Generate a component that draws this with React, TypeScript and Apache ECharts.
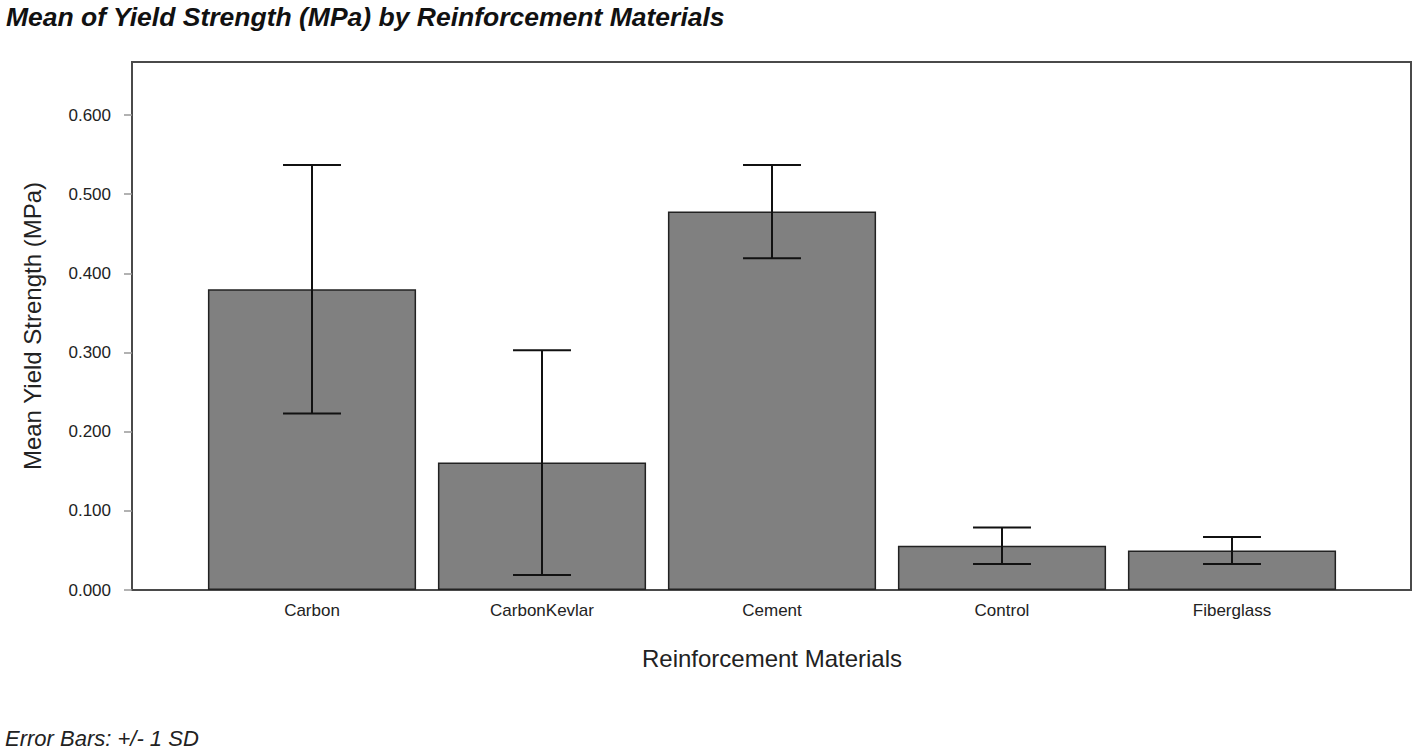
import React, { useEffect, useRef } from "react";
import * as echarts from "echarts";

const categories = ["Carbon", "CarbonKevlar", "Cement", "Control", "Fiberglass"];
const means = [0.38, 0.161, 0.478, 0.056, 0.05];
const sds = [0.157, 0.142, 0.059, 0.023, 0.017];
const yTicks = [0, 0.1, 0.2, 0.3, 0.4, 0.5, 0.6];
const yMax = 0.667;

const FONT = "'Liberation Sans', Arial, Helvetica, sans-serif";

export default function App() {
  const ref = useRef<HTMLDivElement>(null);

  useEffect(() => {
    if (!ref.current) return;
    const chart = echarts.init(ref.current, undefined, { renderer: "svg" });
    const errData = means.map((m, i) => [i, m - sds[i], m + sds[i]]);

    chart.setOption({
      animation: false,
      backgroundColor: "#ffffff",
      textStyle: { fontFamily: FONT },
      title: {
        text: "Mean of Yield Strength (MPa) by Reinforcement Materials",
        left: 6,
        top: 3,
        padding: 0,
        textStyle: {
          fontFamily: FONT,
          fontSize: 26.5,
          fontWeight: "bold",
          fontStyle: "italic",
          color: "#111",
        },
      },
      graphic: [
        {
          type: "text",
          left: 5,
          top: 727,
          style: {
            text: "Error Bars: +/- 1 SD",
            font: `italic 22px ${FONT}`,
            fill: "#222",
          },
        },
      ],
      grid: [
        { left: 197, right: 69, top: 62, bottom: 164 },
        {
          left: 132,
          right: 5,
          top: 62,
          bottom: 164,
          show: true,
          borderColor: "#4a4a4a",
          borderWidth: 2,
          backgroundColor: "transparent",
        },
      ],
      xAxis: [
        {
          type: "category",
          gridIndex: 0,
          data: categories,
          boundaryGap: true,
          axisLine: { show: false },
          axisTick: { show: false },
          axisLabel: { fontSize: 17, color: "#222", margin: 12, fontFamily: FONT },
          name: "Reinforcement Materials",
          nameLocation: "middle",
          nameGap: 56,
          nameTextStyle: { fontSize: 24, color: "#222", fontFamily: FONT },
        },
        {
          type: "value",
          gridIndex: 1,
          min: 0,
          max: 1,
          show: false,
        },
      ],
      yAxis: [
        {
          type: "value",
          gridIndex: 0,
          min: 0,
          max: yMax,
          show: false,
        },
        {
          type: "value",
          gridIndex: 1,
          min: 0,
          max: yMax,
          axisLine: { show: true, lineStyle: { color: "#4a4a4a", width: 2 } },
          axisTick: {
            show: true,
            length: 8,
            customValues: yTicks,
            lineStyle: { color: "#999", width: 1.5 },
          },
          axisLabel: {
            customValues: yTicks,
            formatter: (v: number) => v.toFixed(3),
            fontSize: 17,
            color: "#222",
            margin: 21,
            fontFamily: FONT,
          },
          splitLine: { show: false },
          name: "Mean Yield Strength (MPa)",
          nameLocation: "middle",
          nameGap: 88,
          nameTextStyle: { fontSize: 24, color: "#222", fontFamily: FONT },
        },
      ],
      series: [
        {
          type: "bar",
          xAxisIndex: 0,
          yAxisIndex: 0,
          data: means,
          barWidth: "90.5%",
          itemStyle: { color: "#808080", borderColor: "#222", borderWidth: 1.5 },
          z: 2,
        },
        {
          type: "custom",
          xAxisIndex: 0,
          yAxisIndex: 0,
          data: errData,
          encode: { x: 0, y: [1, 2] },
          z: 3,
          renderItem: (params: any, api: any) => {
            const x = api.value(0);
            const lo = api.coord([x, api.value(1)]);
            const hi = api.coord([x, api.value(2)]);
            const half = api.size([1, 0])[0] * 0.126;
            const style = { stroke: "#111", lineWidth: 2 };
            return {
              type: "group",
              children: [
                { type: "line", shape: { x1: lo[0], y1: lo[1], x2: hi[0], y2: hi[1] }, style },
                { type: "line", shape: { x1: hi[0] - half, y1: hi[1], x2: hi[0] + half, y2: hi[1] }, style },
                { type: "line", shape: { x1: lo[0] - half, y1: lo[1], x2: lo[0] + half, y2: lo[1] }, style },
              ],
            };
          },
        },
      ],
    });

    return () => chart.dispose();
  }, []);

  return (
    <div
      ref={ref}
      style={{ position: "absolute", left: 0, top: 0, width: 1416, height: 754, background: "#fff" }}
    />
  );
}
